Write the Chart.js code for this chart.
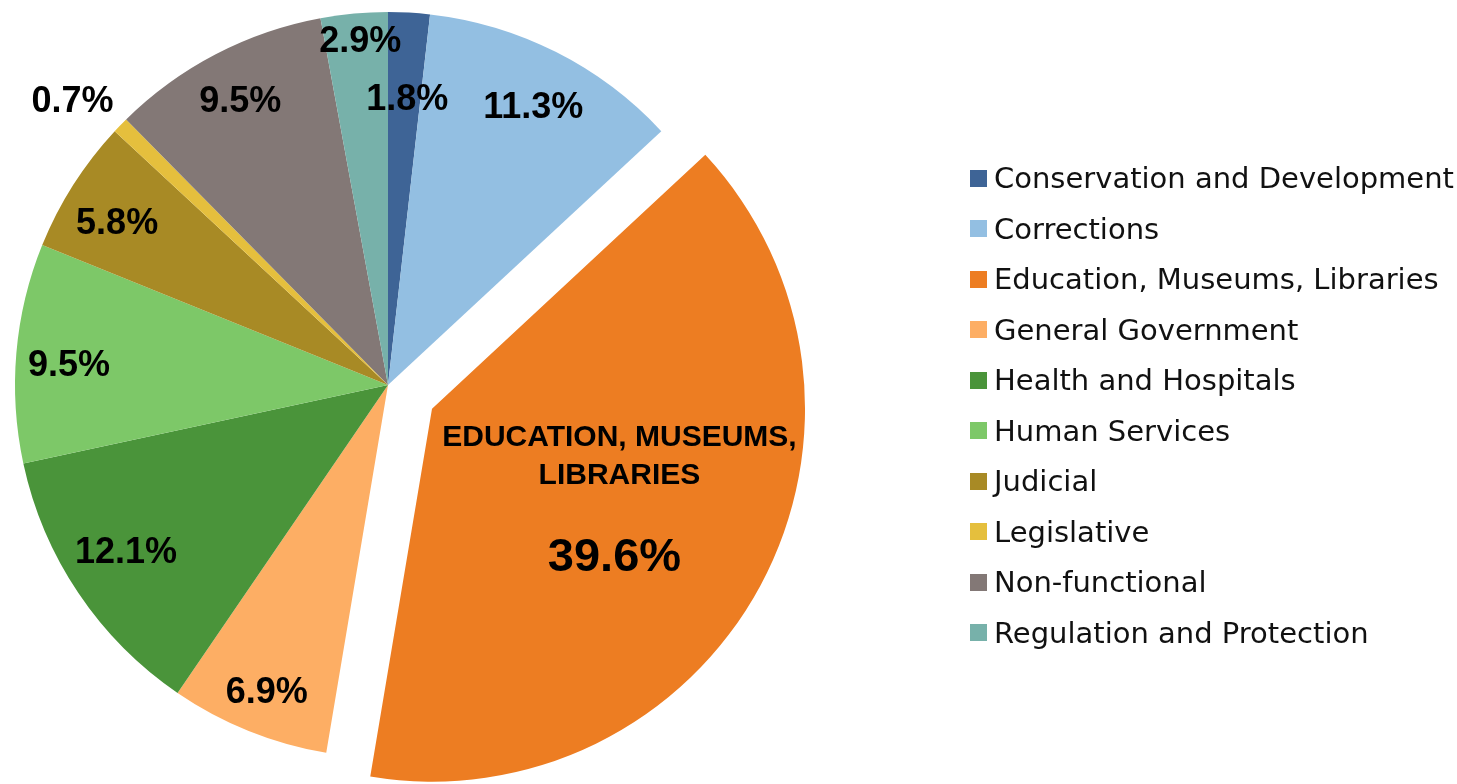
<!DOCTYPE html>
<html>
<head>
<meta charset="utf-8">
<script src="https://cdn.jsdelivr.net/npm/chart.js@4/dist/chart.umd.min.js"></script>
<style>
  html, body { margin: 0; padding: 0; background: #ffffff; }
  #wrap { position: relative; width: 1457px; height: 784px; overflow: hidden; }
  #pie { position: absolute; left: 0; top: 0; }
  #legend { position: absolute; left: 970px; top: 153px; font-family: "DejaVu Sans", sans-serif; font-size: 29px; color: #111; }
  .item { height: 50.5px; display: flex; align-items: center; white-space: nowrap; }
  .box { width: 17px; height: 17px; margin-right: 7px; flex: none; }
</style>
</head>
<body>
<div id="wrap">
  <canvas id="pie" width="1457" height="784"></canvas>
  <div id="legend"></div>
</div>
<script>
const categories = [
    "Conservation and Development",
    "Corrections",
    "Education, Museums, Libraries",
    "General Government",
    "Health and Hospitals",
    "Human Services",
    "Judicial",
    "Legislative",
    "Non-functional",
    "Regulation and Protection"
];
const shares = [1.8, 11.3, 39.6, 6.9, 12.1, 9.5, 5.8, 0.7, 9.5, 2.9];
const colors = ["#3e6496", "#93bfe2", "#ed7d22", "#fdae64", "#4a943a", "#7dc868", "#a88a25", "#e5bf3d", "#837876", "#77b1aa"];

// label placement: fraction of radius, and a small turn (degrees) off the slice middle
const labelRadius = [0.768, 0.841, 0.555, 0.885, 0.833, 0.857, 0.846, 1.137, 0.858, 0.925];
const labelTurn = [0.6, 0.8, -3.2, -0.4, 1.4, -1.3, -1.6, -2.2, 0, 0.6];
const explodeIndex = 2;
const explodeDistance = 50;

// pulls the big slice out of the pie without growing it (offset option also enlarges the arc)
const explodeSlice = {
    id: "explodeSlice",
    afterDatasetsUpdate(chart) {
        const arc = chart.getDatasetMeta(0).data[explodeIndex];
        const mid = (arc.startAngle + arc.endAngle) / 2;
        arc.x += Math.cos(mid) * explodeDistance;
        arc.y += Math.sin(mid) * explodeDistance;
    }
};

// draws the percentage labels on the slices
const sliceLabels = {
    id: "sliceLabels",
    afterDatasetsDraw(chart) {
        const ctx = chart.ctx;
        const meta = chart.getDatasetMeta(0);
        meta.data.forEach((arc, i) => {
            const mid = (arc.startAngle + arc.endAngle) / 2 + labelTurn[i] * Math.PI / 180;
            const r = arc.outerRadius * labelRadius[i];
            const lx = arc.x + Math.cos(mid) * r;
            const ly = arc.y + Math.sin(mid) * r + 1;
            ctx.save();
            ctx.fillStyle = "#000";
            ctx.textAlign = "center";
            ctx.textBaseline = "middle";
            if (i === explodeIndex) {
                ctx.font = "bold 30px 'Liberation Sans', Arial, sans-serif";
                ctx.fillText("EDUCATION, MUSEUMS,", lx, ly - 60);
                ctx.fillText("LIBRARIES", lx, ly - 22);
                ctx.font = "bold 47px 'Liberation Sans', Arial, sans-serif";
                ctx.fillText(shares[i].toFixed(1) + "%", lx - 5, ly + 60);
            } else {
                ctx.font = "bold 36px 'Liberation Sans', Arial, sans-serif";
                ctx.fillText(shares[i].toFixed(1) + "%", lx, ly);
            }
            ctx.restore();
        });
    }
};

const pieChart = new Chart(document.getElementById("pie"), {
    type: "pie",
    data: {
        labels: categories,
        datasets: [{
            data: shares,
            backgroundColor: colors,
            borderWidth: 0
        }]
    },
    options: {
        responsive: false,
        animation: false,
        radius: 373,
        layout: { padding: { left: 0, top: 0, right: 681, bottom: 14 } },
        plugins: {
            legend: { display: false },
            tooltip: { enabled: false }
        }
    },
    plugins: [explodeSlice, sliceLabels]
});

// legend built from the same arrays
const legendEl = document.getElementById("legend");
categories.forEach((name, i) => {
    legendEl.innerHTML += `<div class="item"><span class="box" style="background:${colors[i]}"></span>${name}</div>`;
});
</script>
</body>
</html>
